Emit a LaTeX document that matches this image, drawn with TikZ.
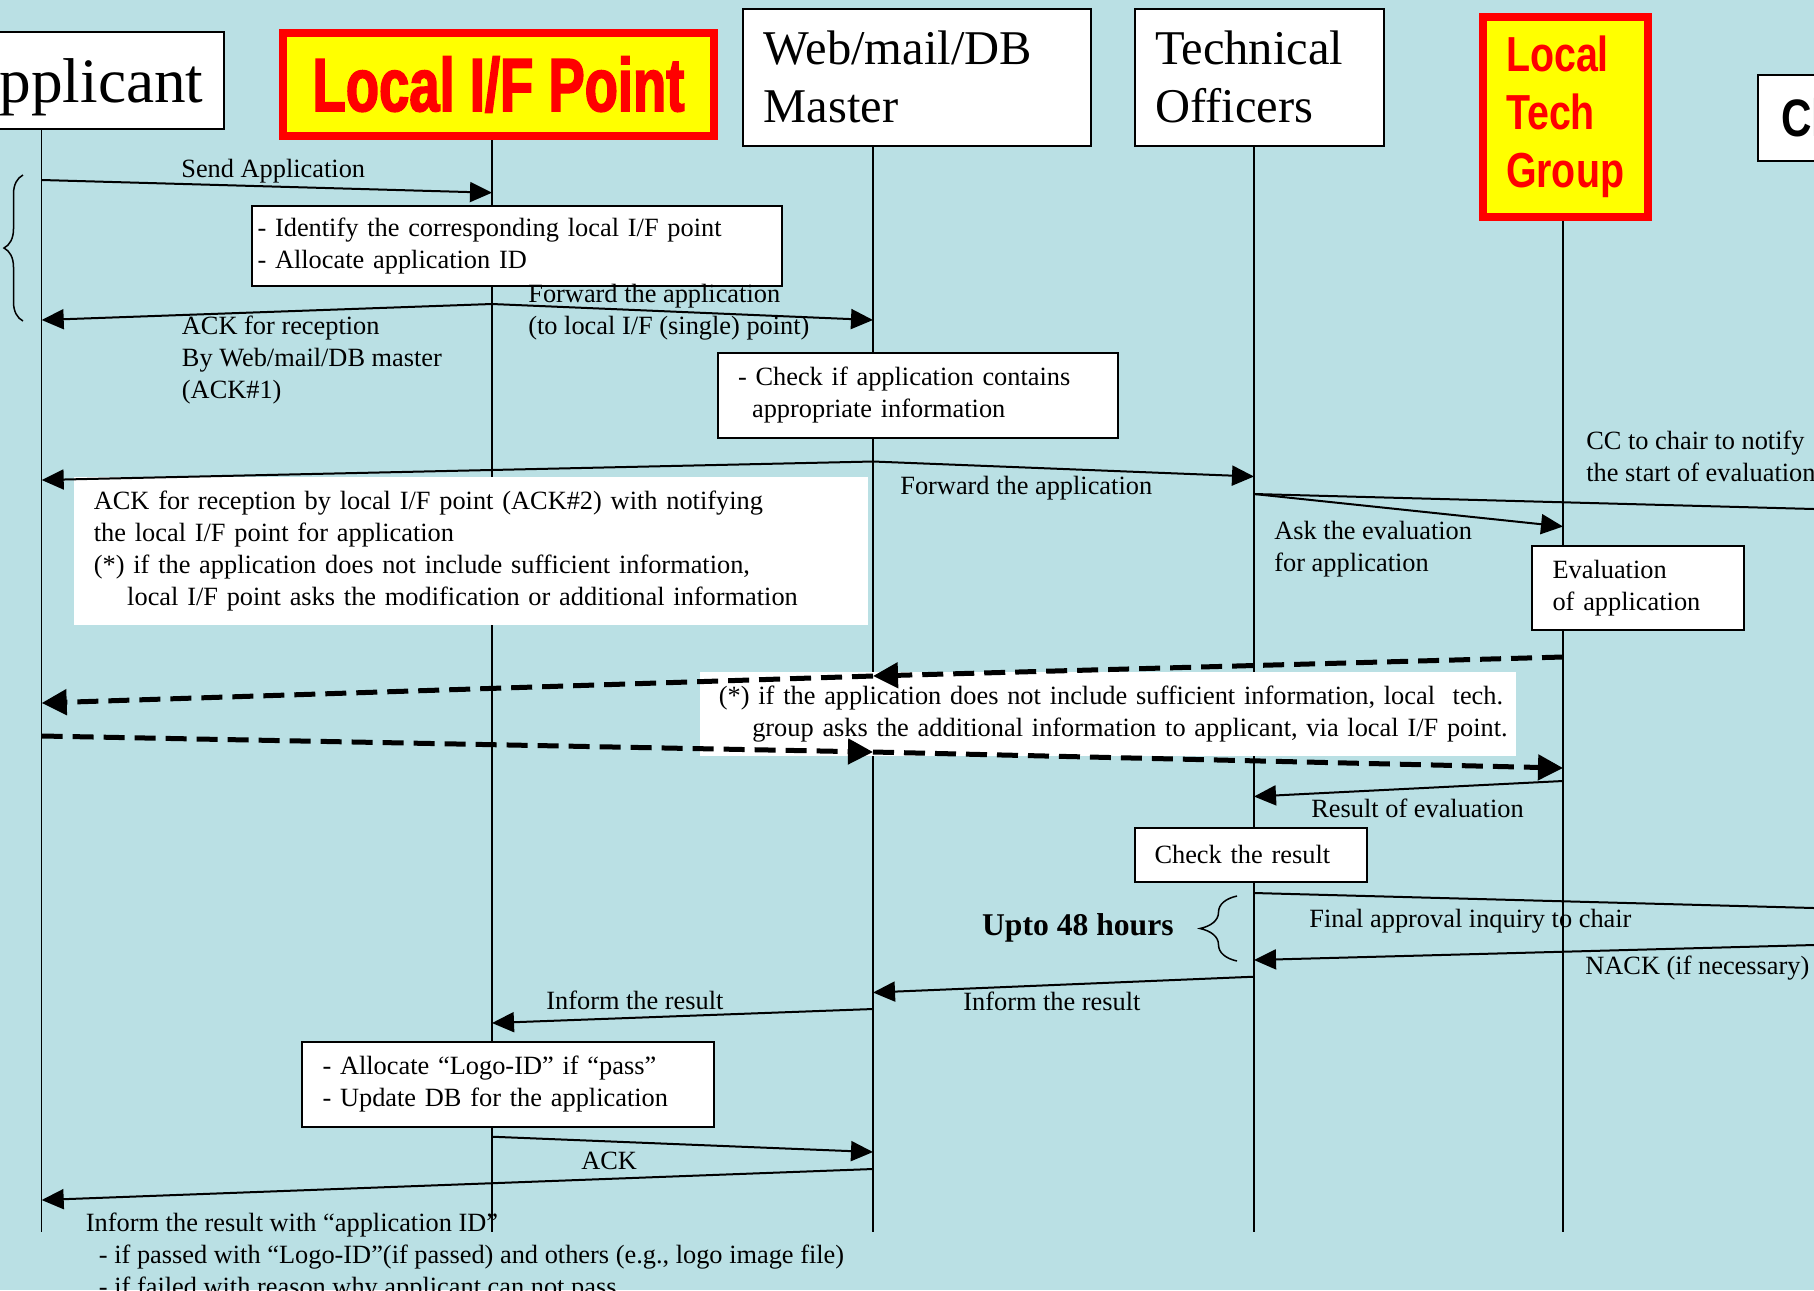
\documentclass[tikz,border=0pt]{standalone}
\usepackage{fontspec}
\setmainfont{Liberation Serif}
\setsansfont{Liberation Sans}
\newfontfamily\impactfont{Liberation Sans}[FakeStretch=0.72, BoldFeatures={FakeBold=2}]
\newfontfamily\narrowbold{Liberation Sans}[FakeStretch=0.8]
\usepackage{xcolor}
\usepackage{tikz}
\usetikzlibrary{arrows.meta,decorations.pathreplacing,calc}
\definecolor{bgblue}{RGB}{186,224,228}
\definecolor{hotred}{RGB}{255,0,0}
\definecolor{hotyellow}{RGB}{255,255,0}

\begin{document}
\begin{tikzpicture}[x=0.2mm, y=-0.2mm,
    every node/.style={font=\fontsize{15}{18.2}\selectfont, inner sep=0pt},
    head/.style={draw, line width=0.4mm, fill=white, align=left, font=\fontsize{27.6}{33}\selectfont},
    redhead/.style={draw=hotred, line width=1.6mm, fill=hotyellow, text=hotred},
    life/.style={line width=0.3mm},
    msg/.style={line width=0.4mm, -{Triangle[length=4.4mm,width=4mm]}},
    dmsg/.style={line width=1mm, dash pattern=on 4.2mm off 2mm, -{Triangle[length=5mm,width=5mm]}},
    note/.style={draw, line width=0.4mm, fill=white, align=left, anchor=north west},
    pad/.style={fill=white, align=left, anchor=north west},
    lbl/.style={anchor=west, align=left},
    curly/.style={decorate, decoration={brace, amplitude=#1}, line width=0.3mm}]

    % Canvas
    \useasboundingbox (0,0) rectangle (1814,1290);
    \fill[bgblue] (0,0) rectangle (1814,1290);
    \clip (0,0) rectangle (1814,1290);

    % Lifelines
    \coordinate (appL) at (41.7,0);
    \coordinate (lifL) at (492,0);
    \coordinate (webL) at (873,0);
    \coordinate (techL) at (1254,0);
    \coordinate (ltgL) at (1563,0);
    \coordinate (chairL) at (1900,0);
    \draw[life] (appL |- 0,100) -- (appL |- 0,1232);
    \draw[life] (lifL |- 0,100) -- (lifL |- 0,1232);
    \draw[life] (webL |- 0,100) -- (webL |- 0,1232);
    \draw[life] (techL |- 0,100) -- (techL |- 0,1232);
    \draw[life] (ltgL |- 0,150) -- (ltgL |- 0,1232);

    % Heads
    \node[head, anchor=north east, minimum height=19.3mm, inner xsep=4mm, text depth=0pt,
          font=\fontsize{36}{40}\selectfont] (app) at (224.5,31) {Applicant};
    \node[redhead, minimum width=86.2mm, minimum height=20.6mm,
          font=\impactfont\bfseries\fontsize{43}{48}\selectfont] (lif) at (498.5,84.5) {Local I/F Point};
    \node[head, anchor=north west, minimum width=69.7mm, minimum height=27.3mm,
          text width=61.3mm, inner xsep=4.2mm] (web) at (741.6,8) {Web/mail/DB\\Master};
    \node[head, anchor=north west, minimum width=49.7mm, minimum height=27.3mm,
          text width=41.6mm, inner xsep=4.05mm] (tech) at (1134,8) {Technical\\Officers};
    \node[redhead, anchor=north west, minimum width=33mm, minimum height=40mm, text width=23.7mm,
          inner xsep=4.66mm, align=left, font=\narrowbold\bfseries\fontsize{28}{33}\selectfont] (ltg) at (1478.7,12.7) {Local\\Tech\\Group};
    \node[head, anchor=north west, minimum height=17.1mm, inner xsep=4.6mm,
          font=\narrowbold\bfseries\fontsize{30}{34}\selectfont] (chair) at (1757,74) {Chair};

    % Boxes
    \node[note, minimum width=106mm, minimum height=16.1mm, text width=103.8mm, inner xsep=1.1mm] (ident) at (251,204.5)
        {- Identify the corresponding local I/F point\\- Allocate application ID};
    \node[note, minimum width=79.9mm, minimum height=17.1mm, text width=71.9mm, inner xsep=4mm] (check) at (717,351.7)
        {- Check if application contains\\\hspace*{8pt}appropriate information};
    \node[pad, minimum width=158.8mm, minimum height=29.6mm, text width=151mm, inner xsep=3.9mm] (ack2) at (74,477)
        {\mbox{ACK for reception by local I/F point (ACK\#2) with notifying}\\\mbox{the local I/F point for application}\\\mbox{(*) if the application does not include sufficient information,}\\\mbox{\hspace*{19pt}local I/F point asks the modification or additional information}};
    \node[note, minimum width=42.3mm, minimum height=16.9mm, text width=34.1mm, inner xsep=4.1mm] (eval) at (1531,544.5)
        {Evaluation\\of application};
    \node[pad, minimum width=163.3mm, minimum height=16.8mm, text width=155.7mm, inner xsep=3.8mm] (lack) at (699.5,672)
        {\mbox{(*) if the application does not include sufficient information, local~ tech.}\\\mbox{\hspace*{19pt}group asks the additional information to applicant, via local I/F point.}};
    \node[note, minimum width=46.4mm, minimum height=10.7mm, text width=38.6mm, inner xsep=3.9mm] (result) at (1134,827)
        {Check the result};
    \node[note, minimum width=82.4mm, minimum height=17.1mm, text width=74.2mm, inner xsep=4.1mm] (logo) at (301,1040.5)
        {- Allocate “Logo-ID” if “pass”\\- Update DB for the application};

    % Messages
    \draw[msg] (appL |- 0,180) -- (lifL |- 0,192.7);
    \draw[msg] (lifL |- 0,304) -- (appL |- 0,320);
    \draw[msg] (lifL |- 0,304) -- (webL |- 0,320);
    \draw[msg] (webL |- 0,461.5) -- (appL |- 0,480);
    \draw[msg] (webL |- 0,461.5) -- (techL |- 0,476.5);
    \draw[msg] (techL |- 0,494) -- (chairL |- 0,511.3);
    \draw[msg] (techL |- 0,494) -- (ltgL |- 0,526.5);
    \draw[msg] (ltgL |- 0,781) -- (techL |- 0,796.5);
    \draw[msg] (techL |- 0,893) -- (chairL |- 0,910.3);
    \draw[msg] (chairL |- 0,942.7) -- (techL |- 0,960);
    \draw[msg] (techL |- 0,976.7) -- (webL |- 0,992.5);
    \draw[msg] (webL |- 0,1009) -- (lifL |- 0,1023);
    \draw[msg] (lifL |- 0,1136.7) -- (webL |- 0,1152);
    \draw[msg] (webL |- 0,1169) -- (appL |- 0,1200);

    % Extra information (dashed)
    \draw[dmsg] (ltgL |- 0,657) -- (webL |- 0,676);
    \draw[dmsg] (webL |- 0,676) -- (appL |- 0,703);
    \draw[dmsg] (appL |- 0,736) -- (webL |- 0,752);
    \draw[dmsg] (webL |- 0,752) -- (ltgL |- 0,768);

    % Braces
    \draw[curly=3.8mm] (23,321) -- (23,175);
    \draw[curly=7.4mm] (1237,961) -- (1237,896);

    % Labels
    \node[lbl] (send) at (181,171.5) {Send Application};
    \node[lbl] (ack1) at (181.6,360) {ACK for reception\\By Web/mail/DB master\\(ACK\#1)};
    \node[lbl] (fwd1) at (528,312) {Forward the application\\(to local I/F (single) point)};
    \node[lbl] (fwd2) at (900,488) {Forward the application};
    \node[lbl] (cc) at (1586,456.5) {CC to chair to notify\\the start of evaluation};
    \node[lbl] (ask) at (1274,549.5) {Ask the evaluation\\for application};
    \node[lbl] (res) at (1311,808) {Result of evaluation};
    \node[lbl] (final) at (1309,921) {Final approval inquiry to chair};
    \node[lbl] (nack) at (1585,968) {NACK (if necessary)};
    \node[anchor=east, font=\fontsize{18}{22}\selectfont\bfseries] (hours) at (1174,928) {Upto 48 hours};
    \node[lbl] (inf1) at (963,1001) {Inform the result};
    \node[lbl] (inf2) at (546,1000.5) {Inform the result};
    \node[lbl] (ack) at (581,1161) {ACK};
    \node[lbl] (infid) at (85.6,1256.7) {Inform the result with “application ID”\\\hspace*{7.4pt}- if passed with “Logo-ID”(if passed) and others (e.g., logo image file)\\\hspace*{7.4pt}- if failed with reason why applicant can not pass};

\end{tikzpicture}
\end{document}
